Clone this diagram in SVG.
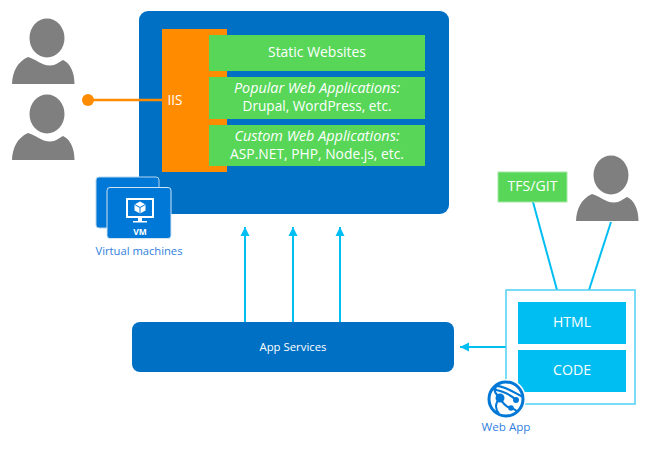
<svg xmlns="http://www.w3.org/2000/svg" width="655" height="451" viewBox="0 0 655 451">
<style>
text{font-family:"Open Sans","Noto Sans","Liberation Sans",sans-serif;text-anchor:middle}
.w{fill:#fff;font-size:15px}
.s{fill:#fff;font-size:11.500px}
.l{fill:#2f7fe0;font-size:11.500px}
.g{fill:#57d658}
.c{fill:#00bef2}
.cn{stroke:#00bef2;stroke-width:2;fill:none}
.p{fill:#7f7f7f}
</style>
<defs>
<marker id="a" markerWidth="10" markerHeight="10" refX="9" refY="5" orient="auto" markerUnits="userSpaceOnUse"><path d="M0 0.500L9 5L0 9.500Z" fill="#00bef2"/></marker>
<g id="person"><ellipse class="p" cx="47" cy="38" rx="17.500" ry="19.500"/><path class="p" d="M12 84C12.500 72 17 62 28 57C36 59 41 65.500 50 65.500C56 65.500 59 62 63 60C70 63 74.500 72 74.500 84Z"/></g>
</defs>
<g id="host"><rect x="139" y="11" width="310" height="203" rx="9" fill="#0070c4"/></g>
<g id="connectors">
<path d="M88 100H162" stroke="#ff8c00" stroke-width="2.500" fill="none"/>
<circle cx="88" cy="100" r="6" fill="#ff8c00"/>
<path class="cn" marker-end="url(#a)" d="M245 322V227"/>
<path class="cn" marker-end="url(#a)" d="M293 322V227"/>
<path class="cn" marker-end="url(#a)" d="M340 322V227"/>
<path class="cn" marker-end="url(#a)" d="M506 347H460"/>
<path class="cn" d="M533 202L557 290"/>
<path class="cn" d="M611 222L589 290"/>
</g>
<g id="user1"><use href="#person"/></g>
<g id="user2"><use href="#person" y="76"/></g>
<g id="user3"><use href="#person" x="564" y="137"/></g>
<g id="iis"><rect x="162" y="29" width="65" height="143" fill="#ff8c00"/><text class="w" x="175" y="105" textLength="15" lengthAdjust="spacingAndGlyphs">IIS</text></g>
<g id="static"><rect class="g" x="209" y="35" width="216" height="36"/><text class="w" x="317" y="57" textLength="98" lengthAdjust="spacingAndGlyphs">Static Websites</text></g>
<g id="popular"><rect class="g" x="209" y="77" width="216" height="42"/><text class="w" x="317" y="93" font-style="italic" textLength="166" lengthAdjust="spacingAndGlyphs">Popular Web Applications:</text><text class="w" x="317" y="111" textLength="149" lengthAdjust="spacingAndGlyphs">Drupal, WordPress, etc.</text></g>
<g id="custom"><rect class="g" x="209" y="125" width="216" height="41"/><text class="w" x="317" y="141" font-style="italic" textLength="165" lengthAdjust="spacingAndGlyphs">Custom Web Applications:</text><text class="w" x="317" y="159" textLength="174" lengthAdjust="spacingAndGlyphs">ASP.NET, PHP, Node.js, etc.</text></g>
<g id="vm">
<rect x="96" y="177" width="63" height="51" rx="3" fill="#0078d7" stroke="#b5d5ef"/>
<rect x="107" y="187.500" width="64" height="51" rx="3" fill="#0078d7" stroke="#cfe4f5"/>
<rect x="127" y="199" width="26" height="18" fill="none" stroke="#fff" stroke-width="2"/>
<path d="M140 201.500L145.500 204.500V210.500L140 213.500L134.500 210.500V204.500Z" fill="#fff"/>
<path d="M134.500 204.500L140 207.500L145.500 204.500M140 207.500V213.500" fill="none" stroke="#0078d7"/>
<path d="M138 218H142V221H147V222.500H133V221H138Z" fill="#fff"/>
<text x="140" y="235" fill="#fff" font-size="8.500" font-weight="700">VM</text>
<text class="l" x="139" y="255" textLength="87" lengthAdjust="spacingAndGlyphs">Virtual machines</text>
</g>
<g id="appservices"><rect x="132" y="322" width="322" height="50" rx="8" fill="#0070c4"/><text class="s" x="293" y="351" textLength="67" lengthAdjust="spacingAndGlyphs">App Services</text></g>
<g id="tfs"><rect class="g" x="498" y="172" width="69" height="30" stroke="#a5e8a5"/><text class="w" x="532.500" y="191" textLength="50" lengthAdjust="spacingAndGlyphs">TFS/GIT</text></g>
<g id="webapp">
<rect x="506" y="290" width="129" height="114" fill="#fff" stroke="#4fd0f5" stroke-width="1.500"/>
<rect class="c" x="518" y="302" width="108" height="42"/><text class="w" x="572" y="327" textLength="38" lengthAdjust="spacingAndGlyphs">HTML</text>
<rect class="c" x="518" y="350" width="108" height="42"/><text class="w" x="572" y="375" textLength="38" lengthAdjust="spacingAndGlyphs">CODE</text>
<circle cx="506" cy="399" r="20" fill="#fff"/>
<circle cx="506" cy="399" r="17" fill="none" stroke="#0078d7" stroke-width="3"/>
<path d="M491 389C498 390 509 393 516 400M494 386C503 385 513 392 523 397M497 385C493 391 495 393 500 398C495 403 495 409 499 414M500 398C503 404 506 407 511 408C514 408 516 411 518 412" fill="none" stroke="#0078d7" stroke-width="2.200"/>
<circle cx="500" cy="398" r="4.500" fill="#0078d7"/><circle cx="516" cy="400" r="3" fill="#0078d7"/><circle cx="511" cy="408" r="2.800" fill="#0078d7"/>
<text class="l" x="506" y="431" textLength="49" lengthAdjust="spacingAndGlyphs">Web App</text>
</g>
</svg>
